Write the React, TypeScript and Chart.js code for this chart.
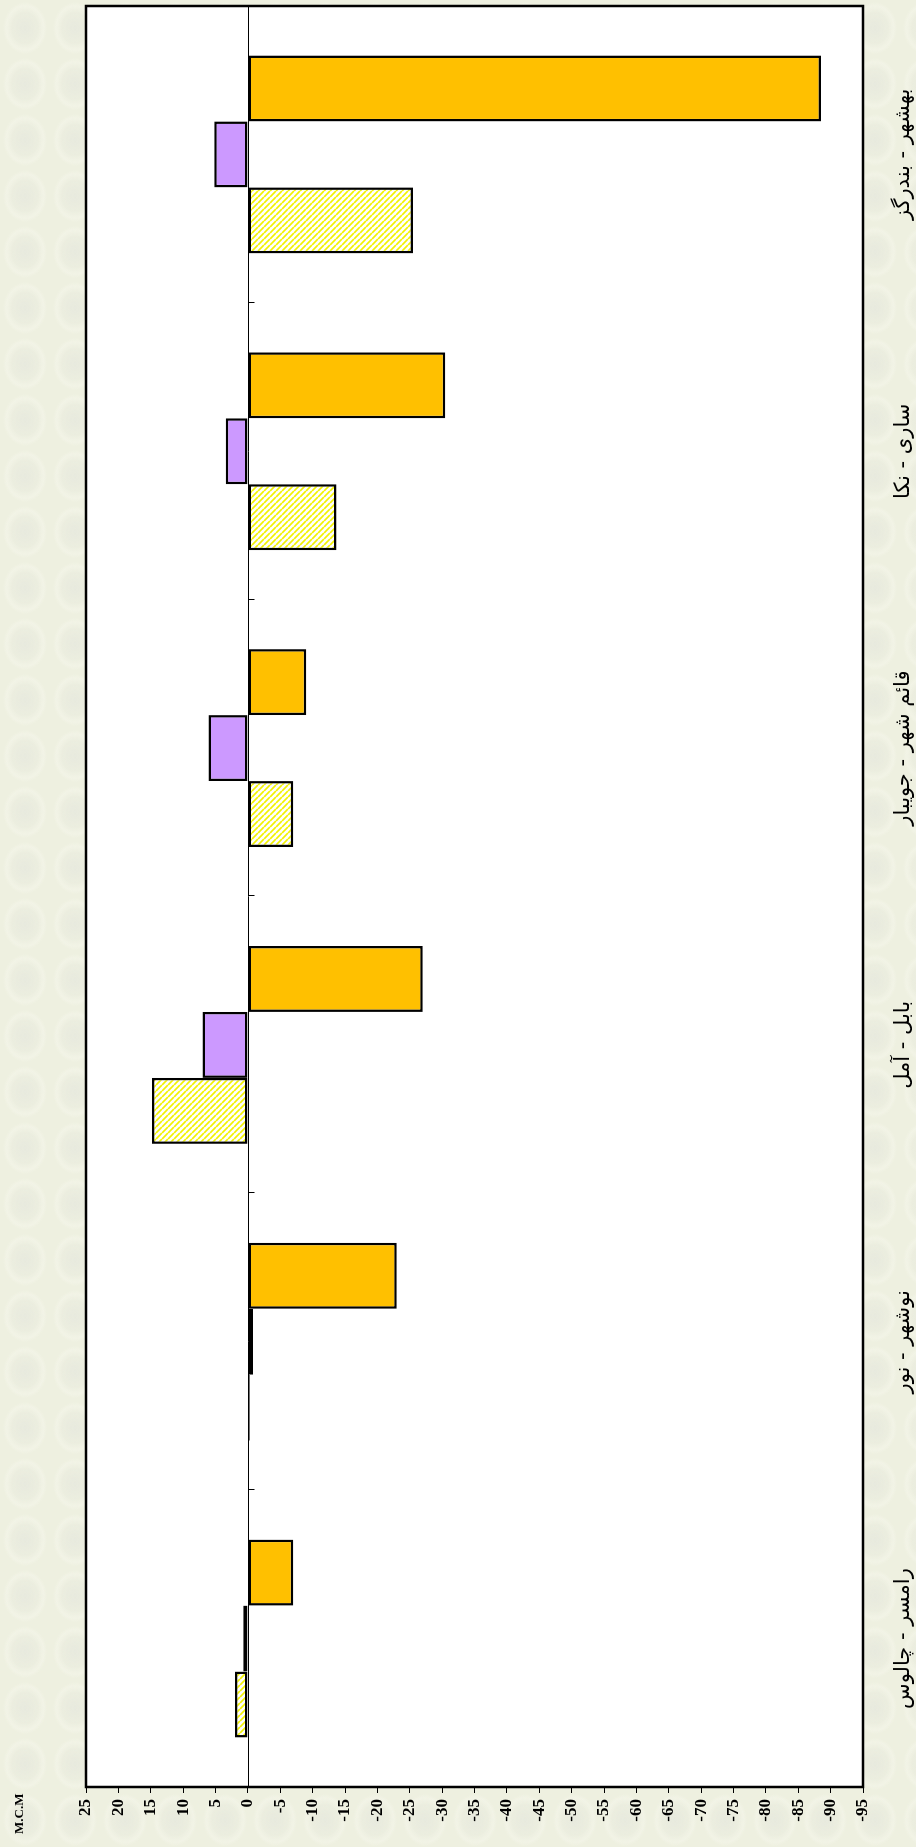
import React, { useEffect, useRef } from "react";
import { Chart, registerables } from "chart.js";

Chart.register(...registerables);

// ---- data (original chart is a column chart, displayed rotated 90° counter-clockwise) ----
const categories = [
  "رامسر - چالوس",
  "نوشهر - نور",
  "بابل - آمل",
  "قائم شهر - جویبار",
  "ساری - نکا",
  "بهشهر - بندرگز",
];
const seriesHatched = [2.0, -0.3, 14.8, -7.0, -13.7, -25.5];
const seriesPurple = [0.7, -0.8, 7.0, 6.1, 3.4, 5.2];
const seriesOrange = [-7.0, -23.0, -27.0, -9.0, -30.5, -88.5];
const valueMin = -95;
const valueMax = 25;
const valueStep = 5;
const unitLabel = "M.C.M";

const PAGE_W = 916;
const PAGE_H = 1847;

function makeHatch(): CanvasPattern | string {
  const c = document.createElement("canvas");
  c.width = 6;
  c.height = 6;
  const g = c.getContext("2d");
  if (!g) return "#ffff66";
  g.fillStyle = "#ffffff";
  g.fillRect(0, 0, 6, 6);
  g.strokeStyle = "#f2f200";
  g.lineWidth = 1.6;
  for (const o of [-6, 0, 6]) {
    g.beginPath();
    g.moveTo(o, 0);
    g.lineTo(o + 6, 6);
    g.stroke();
  }
  return g.createPattern(c, "repeat") || "#ffff66";
}

const decorPlugin = {
  id: "decor",
  beforeDraw(chart: any) {
    const { ctx, chartArea } = chart;
    const { left, top, right, bottom } = chartArea;
    ctx.save();
    ctx.fillStyle = "#ffffff";
    ctx.fillRect(left, top, right - left, bottom - top);
    ctx.restore();
  },
  beforeDatasetsDraw(chart: any) {
    const { ctx, chartArea, scales } = chart;
    const y0 = Math.round(scales.y.getPixelForValue(0)) + 0.5;
    ctx.save();
    ctx.strokeStyle = "#000";
    ctx.lineWidth = 1;
    ctx.beginPath();
    ctx.moveTo(chartArea.left, y0);
    ctx.lineTo(chartArea.right, y0);
    ctx.stroke();
    const n = categories.length;
    for (let i = 1; i < n; i++) {
      const xb = Math.round((scales.x.getPixelForValue(i - 1) + scales.x.getPixelForValue(i)) / 2) + 0.5;
      ctx.beginPath();
      ctx.moveTo(xb, y0);
      ctx.lineTo(xb, y0 + 6);
      ctx.stroke();
    }
    ctx.restore();
  },
  afterDraw(chart: any) {
    const { ctx, chartArea } = chart;
    const { left, top, right, bottom } = chartArea;
    ctx.save();
    ctx.strokeStyle = "#000";
    ctx.lineWidth = 2.5;
    ctx.strokeRect(left, top, right - left, bottom - top);
    ctx.fillStyle = "#000";
    ctx.font = "bold 13px 'Liberation Serif', 'Times New Roman', serif";
    ctx.textAlign = "left";
    ctx.textBaseline = "middle";
    ctx.fillText(unitLabel, 13, 20);
    ctx.restore();
  },
};

export default function App() {
  const canvasRef = useRef<HTMLCanvasElement | null>(null);

  useEffect(() => {
    const canvas = canvasRef.current;
    if (!canvas) return;
    const hatch = makeHatch();
    const common = { borderColor: "#000", borderWidth: 2.5, borderSkipped: false };
    const chart = new Chart(canvas, {
      type: "bar",
      data: {
        labels: categories,
        datasets: [
          { data: seriesHatched, backgroundColor: hatch as any, ...common },
          { data: seriesPurple, backgroundColor: "#cc99ff", ...common },
          { data: seriesOrange, backgroundColor: "#ffc000", ...common },
        ],
      },
      options: {
        responsive: false,
        animation: false,
        events: [],
        layout: { padding: { top: 86, right: 6, left: 0, bottom: 0 } },
        datasets: {
          bar: { categoryPercentage: 2 / 3, barPercentage: 1 },
        },
        plugins: {
          legend: { display: false },
          title: { display: false },
          tooltip: { enabled: false },
        },
        scales: {
          x: {
            afterFit(scale: any) {
              scale.height = 53;
            },
            grid: { display: false },
            border: { display: false },
            ticks: {
              color: "#000",
              autoSkip: false,
              maxRotation: 0,
              minRotation: 0,
              padding: 20,
              font: { family: "'DejaVu Sans', sans-serif", size: 21 },
            },
          },
          y: {
            min: valueMin,
            max: valueMax,
            afterFit(scale: any) {
              scale.width = 60;
            },
            grid: {
              drawOnChartArea: false,
              drawTicks: true,
              tickLength: 6,
              color: "#000",
              lineWidth: 1,
            },
            border: { display: false },
            ticks: {
              stepSize: valueStep,
              autoSkip: false,
              color: "#000",
              padding: 6,
              font: { family: "'Liberation Serif', 'Times New Roman', serif", size: 17, weight: "bold" },
              callback: (v: any) => String(v),
            },
          },
        },
      },
      plugins: [decorPlugin],
    } as any);
    return () => chart.destroy();
  }, []);

  return (
    <div
      style={{
        position: "absolute",
        left: 0,
        top: 0,
        width: PAGE_W,
        height: PAGE_H,
        overflow: "hidden",
        backgroundColor: "#eef0e0",
        backgroundImage:
          "radial-gradient(ellipse 22px 26px at 50% 50%, rgba(226,228,220,0.55) 0%, rgba(232,234,222,0.35) 60%, rgba(246,247,236,0.5) 85%, rgba(238,240,224,0) 100%)",
        backgroundSize: "50px 56px",
      }}
    >
      <div
        style={{
          position: "absolute",
          left: 0,
          top: 0,
          width: PAGE_H,
          height: PAGE_W,
          transformOrigin: "0 0",
          transform: `translateY(${PAGE_H}px) rotate(-90deg)`,
        }}
      >
        <canvas
          ref={canvasRef}
          width={PAGE_H}
          height={PAGE_W}
          style={{ display: "block", width: PAGE_H, height: PAGE_W }}
        />
      </div>
    </div>
  );
}
